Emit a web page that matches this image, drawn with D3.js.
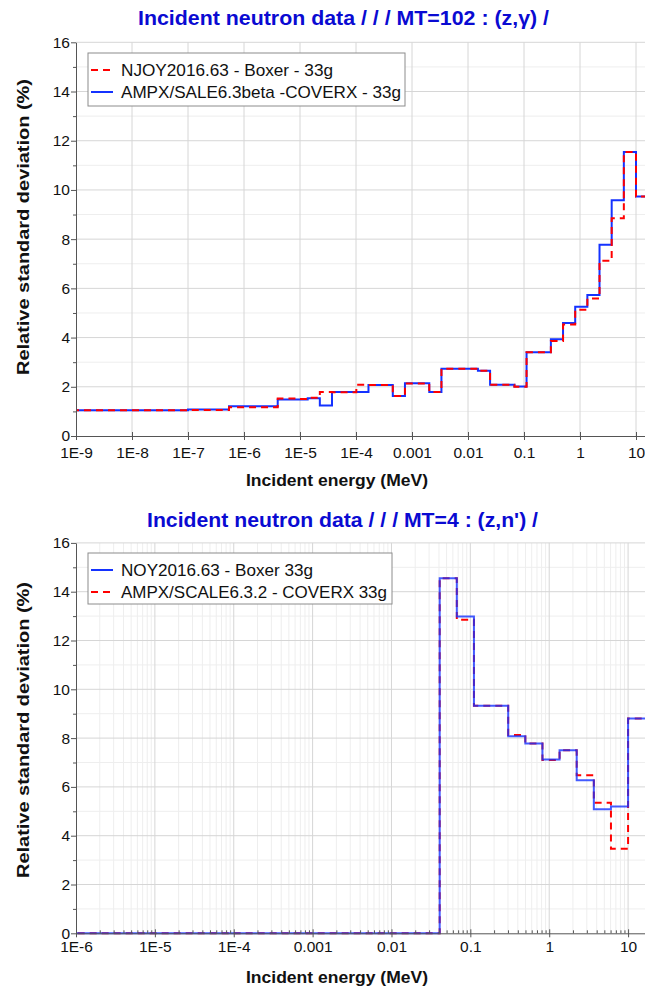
<!DOCTYPE html>
<html>
<head>
<meta charset="utf-8">
<script src="https://cdn.jsdelivr.net/npm/d3@7"></script>
<style>
  body { margin: 0; background: #fff; }
  svg text { font-family: "Liberation Sans", Arial, sans-serif; }
</style>
</head>
<body>
<script>
// 33-group energy structure (MeV), ascending lower bounds plus the top edge
const groupBounds = [1e-11, 1e-7, 5.4e-7, 4e-6, 8.3153e-6, 1.371e-5, 2.2603e-5, 3.7267e-5,
  6.1442e-5, 1.013e-4, 1.6702e-4, 2.7536e-4, 4.54e-4, 7.4852e-4, 1.2341e-3, 2.0347e-3,
  3.3546e-3, 5.5308e-3, 9.1188e-3, 0.015034, 0.024788, 0.040868, 0.067379, 0.11109,
  0.18316, 0.30197, 0.49787, 0.82085, 1.3534, 2.2313, 3.6788, 6.0653, 10, 19.64];

// MT=102 (z,gamma) relative standard deviation (%), one value per group
const captureNjoy = [1.05, 1.06, 1.17, 1.52, 1.50, 1.55, 1.79, 1.78, 1.78, 2.08, 2.07, 2.07,
  1.63, 2.13, 2.13, 1.79, 2.73, 2.73, 2.73, 2.65, 2.08, 2.08, 2.00, 3.40, 3.40, 3.86, 4.53,
  5.13, 5.59, 7.12, 8.85, 11.54, 9.73];
const captureAmpx = [1.05, 1.08, 1.21, 1.48, 1.48, 1.53, 1.24, 1.79, 1.79, 1.79, 2.07, 2.07,
  1.63, 2.14, 2.14, 1.79, 2.73, 2.73, 2.73, 2.65, 2.08, 2.08, 2.01, 3.40, 3.40, 3.93, 4.59,
  5.25, 5.73, 7.77, 9.58, 11.54, 9.73];

// MT=4 (z,n') relative standard deviation (%)
const inelasticNjoy = [0, 0, 0, 0, 0, 0, 0, 0, 0, 0, 0, 0, 0, 0, 0, 0, 0, 0, 0, 0, 0,
  14.55, 12.98, 9.33, 9.33, 8.08, 7.78, 7.12, 7.50, 6.27, 5.08, 5.20, 8.80];
const inelasticAmpx = [0, 0, 0, 0, 0, 0, 0, 0, 0, 0, 0, 0, 0, 0, 0, 0, 0, 0, 0, 0, 0,
  14.55, 12.85, 9.33, 9.33, 8.13, 7.78, 7.10, 7.50, 6.48, 5.35, 3.47, 8.80];

const captureTickValues = [1e-9, 1e-8, 1e-7, 1e-6, 1e-5, 1e-4, 1e-3, 1e-2, 0.1, 1, 10];
const captureTickLabels = ["1E-9", "1E-8", "1E-7", "1E-6", "1E-5", "1E-4", "0.001", "0.01", "0.1", "1", "10"];
const inelasticTickValues = [1e-6, 1e-5, 1e-4, 1e-3, 1e-2, 0.1, 1, 10];
const inelasticTickLabels = ["1E-6", "1E-5", "1E-4", "0.001", "0.01", "0.1", "1", "10"];
const yTickValues = [0, 2, 4, 6, 8, 10, 12, 14, 16];
const yTickLabels = ["0", "2", "4", "6", "8", "10", "12", "14", "16"];

const W = 645, H = 989;
const RED = "#ff0000", BLUE = "#1432ff";
const GRID = "#d6d6d6", GRID_MINOR = "#eeeeee", AXIS = "#555555";

const svg = d3.select("body").append("svg")
  .attr("width", W).attr("height", H)
  .style("display", "block");

function stepPoints(values) {
  const pts = values.map((v, i) => ({ e: groupBounds[i], v }));
  pts.push({ e: groupBounds[groupBounds.length - 1], v: values[values.length - 1] });
  return pts;
}

// stretch a text to a given rendered length
function fitLength(sel, len) {
  sel.attr("textLength", len).attr("lengthAdjust", "spacingAndGlyphs");
}

function panel(o) {
  const x = d3.scaleLog().domain(o.xDomain).range([o.left, o.right]);
  const y = d3.scaleLinear().domain([0, 16]).range([o.bottom, o.top]);
  const g = svg.append("g");

  // grid: minor first, then major
  g.append("g").selectAll("line").data(d3.range(1, 16, 2)).join("line")
    .attr("x1", o.left).attr("x2", W).attr("y1", d => y(d)).attr("y2", d => y(d))
    .attr("stroke", GRID_MINOR).attr("stroke-width", 1);
  let minorX = [];
  if (o.minorVertical) {
    o.tickValues.forEach(t => { for (let k = 2; k <= 9; k++) if (k * t < o.xDomain[1]) minorX.push(k * t); });
    g.append("g").selectAll("line").data(minorX).join("line")
      .attr("x1", d => x(d)).attr("x2", d => x(d)).attr("y1", o.top).attr("y2", o.bottom)
      .attr("stroke", GRID_MINOR).attr("stroke-width", 1);
  }
  g.append("g").selectAll("line").data(yTickValues.slice(1)).join("line")
    .attr("x1", o.left).attr("x2", W).attr("y1", d => y(d)).attr("y2", d => y(d))
    .attr("stroke", GRID).attr("stroke-width", 1);
  g.append("g").selectAll("line").data(o.tickValues.slice(1)).join("line")
    .attr("x1", d => x(d)).attr("x2", d => x(d)).attr("y1", o.top).attr("y2", o.bottom)
    .attr("stroke", GRID).attr("stroke-width", 1);

  // step curves
  const clipId = "clip" + o.id;
  svg.append("clipPath").attr("id", clipId).append("rect")
    .attr("x", o.left).attr("y", o.top - 3).attr("width", W - o.left).attr("height", o.bottom - o.top + 5);
  const line = d3.line().x(d => x(d.e)).y(d => y(d.v)).curve(d3.curveStepAfter);
  const plot = g.append("g").attr("clip-path", `url(#${clipId})`);
  o.series.forEach(s => {
    plot.append("path").datum(stepPoints(s.values))
      .attr("d", line).attr("fill", "none")
      .attr("stroke", s.color).attr("stroke-width", 2)
      .attr("stroke-dasharray", s.dash || null)
      .attr("opacity", s.opacity || 1);
  });

  // axes
  const yAxis = g.append("g").attr("transform", `translate(${o.left},0)`)
    .call(d3.axisLeft(y).tickValues(yTickValues).tickFormat((d, i) => yTickLabels[i])
      .tickSizeInner(5).tickSizeOuter(0).tickPadding(1));
  g.append("g").attr("transform", `translate(${o.left},0)`)
    .call(d3.axisLeft(y).tickValues(d3.range(1, 16, 2)).tickFormat("").tickSizeInner(3).tickSizeOuter(0))
    .select(".domain").remove();

  const xAxis = g.append("g").attr("transform", `translate(0,${o.bottom})`)
    .call(d3.axisBottom(x).tickValues(o.tickValues).tickFormat((d, i) => o.tickLabels[i])
      .tickSizeInner(4).tickSizeOuter(0).tickPadding(o.xTickPad));
  xAxis.selectAll(".tick line").attr("y1", -4);
  if (o.minorVertical) {
    g.append("g").attr("transform", `translate(0,${o.bottom})`)
      .call(d3.axisBottom(x).tickValues(minorX).tickFormat("").tickSizeInner(0).tickSizeOuter(0))
      .call(a => a.select(".domain").remove())
      .selectAll(".tick line").attr("y1", -3).attr("y2", 0);
  }
  [yAxis, xAxis].forEach(a => {
    a.attr("font-family", null).attr("font-size", 15.5);
    a.selectAll("text").attr("fill", "#111");
  });
  g.selectAll(".domain, .tick line").attr("stroke", AXIS);

  // axis titles
  g.append("text").attr("x", 337).attr("y", o.bottom + 50)
    .attr("text-anchor", "middle").attr("font-size", 16.5).attr("font-weight", "bold")
    .attr("fill", "#111").text("Incident energy (MeV)")
    .call(fitLength, 182);
  g.append("text").attr("transform", `translate(29,${o.yLabelMid}) rotate(-90)`)
    .attr("text-anchor", "middle").attr("font-size", 16).attr("font-weight", "bold")
    .attr("fill", "#111").text("Relative standard deviation (%)")
    .call(fitLength, 296);

  // chart title
  g.append("text").attr("x", o.titleX).attr("y", o.titleY)
    .attr("text-anchor", "middle").attr("font-size", 19.5).attr("font-weight", "bold")
    .attr("fill", "#0a0ad2").text(o.title)
    .call(fitLength, o.titleWidth);

  // legend
  const lg = g.append("g");
  lg.append("rect").attr("x", o.legend.x).attr("y", o.legend.y)
    .attr("width", o.legend.w).attr("height", o.legend.h)
    .attr("fill", "#fff").attr("stroke", "#8c8c8c").attr("stroke-width", 1);
  o.legend.items.forEach((it, i) => {
    const ly = o.legend.y + 17 + i * 22;
    lg.append("line").attr("x1", o.legend.x + 3).attr("x2", o.legend.x + 25)
      .attr("y1", ly).attr("y2", ly)
      .attr("stroke", it.color).attr("stroke-width", 2).attr("stroke-dasharray", it.dash || null);
    lg.append("text").attr("x", o.legend.x + 33).attr("y", ly + 5.5)
      .attr("font-size", 17).attr("fill", "#111").text(it.label)
      .call(fitLength, it.width);
  });
}

panel({
  id: "capture",
  xDomain: [1e-9, 20], left: 76, right: 76 + Math.log10(20 / 1e-9) * 56.0,
  top: 42.3, bottom: 436, xTickPad: 6.5,
  tickValues: captureTickValues, tickLabels: captureTickLabels,
  minorVertical: false,
  title: "Incident neutron data / / / MT=102 : (z,\u03b3) /", titleX: 343.5, titleY: 25, titleWidth: 411,
  yLabelMid: 227,
  series: [
    { values: captureAmpx, color: BLUE },
    { values: captureNjoy, color: RED, dash: "7,5" }
  ],
  legend: { x: 88, y: 53, w: 317, h: 53, items: [
    { label: "NJOY2016.63 - Boxer - 33g", color: RED, dash: "7,5", width: 212 },
    { label: "AMPX/SALE6.3beta -COVERX - 33g", color: BLUE, width: 280 }
  ] }
});

panel({
  id: "inelastic",
  xDomain: [1e-6, 20], left: 76, right: 76.5 + Math.log10(20 / 1e-6) * 78.8,
  top: 542.9, bottom: 933.3, xTickPad: 3.5,
  tickValues: inelasticTickValues, tickLabels: inelasticTickLabels,
  minorVertical: true,
  title: "Incident neutron data / / / MT=4 : (z,n') /", titleX: 342.5, titleY: 527, titleWidth: 391,
  yLabelMid: 730,
  series: [
    { values: inelasticAmpx, color: RED, dash: "7,5" },
    { values: inelasticNjoy, color: BLUE, opacity: 0.8 }
  ],
  legend: { x: 88, y: 553, w: 304, h: 51, items: [
    { label: "NOY2016.63 - Boxer 33g", color: BLUE, width: 192 },
    { label: "AMPX/SCALE6.3.2 - COVERX 33g", color: RED, dash: "7,5", width: 266 }
  ] }
});
</script>
</body>
</html>
